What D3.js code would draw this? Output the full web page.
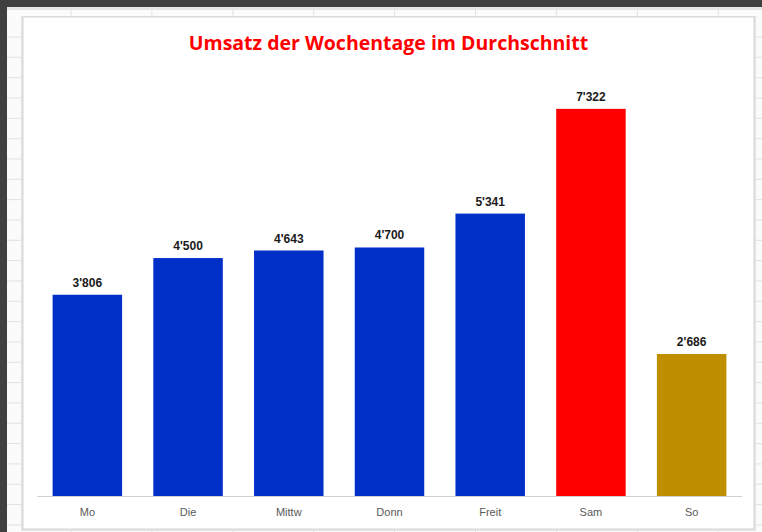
<!DOCTYPE html>
<html>
<head>
<meta charset="utf-8">
<script src="https://cdn.jsdelivr.net/npm/d3@7"></script>
<style>
  html, body { margin: 0; padding: 0; background: #fff; }
  svg { display: block; }
</style>
</head>
<body>
<svg id="chart" width="762" height="532"></svg>
<script>
// data
const days = ["Mo", "Die", "Mittw", "Donn", "Freit", "Sam", "So"];
const umsatz = [3806, 4500, 4643, 4700, 5341, 7322, 2686];
const titleText = "Umsatz der Wochentage im Durchschnitt";

const barColors = ["#0030c8", "#0030c8", "#0030c8", "#0030c8", "#0030c8", "#ff0000", "#bf8f00"];

const W = 762, H = 532;
const svg = d3.select("#chart");

// spreadsheet behind the chart
const sheet = svg.append("g");
sheet.append("rect").attr("width", W).attr("height", H).attr("fill", "#fbfbfb");
const rowLines = d3.range(37, H, 20.33);
const colLines = d3.range(71, W, 80.9);
sheet.selectAll(".row").data(rowLines).enter().append("line")
  .attr("x1", 7).attr("x2", W).attr("y1", d => d).attr("y2", d => d)
  .attr("stroke", "#e2e2e2");
sheet.selectAll(".col").data(colLines).enter().append("line")
  .attr("x1", d => d).attr("x2", d => d).attr("y1", 7).attr("y2", H)
  .attr("stroke", "#e2e2e2");
sheet.append("rect").attr("x", 7).attr("y", 7).attr("width", W).attr("height", 3).attr("fill", "#e6e6e6");
sheet.append("rect").attr("width", W).attr("height", 7).attr("fill", "#404040");
sheet.append("rect").attr("width", 7).attr("height", H).attr("fill", "#404040");

// chart area
const box = { x: 23, y: 17, w: 731, h: 512 };
svg.append("rect")
  .attr("x", box.x - 2).attr("y", box.y - 1).attr("width", box.w + 4).attr("height", box.h + 3)
  .attr("fill", "#e4e4e4");
svg.append("rect")
  .attr("x", box.x).attr("y", box.y).attr("width", box.w).attr("height", box.h)
  .attr("fill", "#ffffff").attr("stroke", "#d4d4d4").attr("stroke-width", 1);

svg.append("text")
  .attr("x", box.x + box.w / 2).attr("y", 50)
  .attr("text-anchor", "middle")
  .attr("fill", "#ff0000")
  .style("font-family", "'Open Sans', Lato, sans-serif")
  .style("font-weight", "bold")
  .style("font-size", "19.5px")
  .text(titleText);

const x = d3.scaleBand().domain(days).range([37, 742]).paddingInner(0.31).paddingOuter(0.155);
const y = d3.scaleLinear().domain([0, 8000]).range([496, 73]);
const color = d3.scaleOrdinal(days, barColors);
const fmt = d3.formatLocale({ decimal: ".", thousands: "'", grouping: [3], currency: ["", ""] }).format(",d");

const data = days.map((d, i) => ({ day: d, value: umsatz[i] }));

const g = svg.append("g");

g.selectAll(".bar").data(data).enter().append("rect")
  .attr("class", "bar")
  .attr("x", d => x(d.day))
  .attr("y", d => y(d.value))
  .attr("width", x.bandwidth())
  .attr("height", d => y(0) - y(d.value))
  .attr("fill", d => color(d.day));

g.selectAll(".lbl").data(data).enter().append("text")
  .attr("x", d => x(d.day) + x.bandwidth() / 2)
  .attr("y", d => y(d.value) - 8)
  .attr("text-anchor", "middle")
  .attr("fill", "#1a1a1a")
  .style("font-family", "'Liberation Sans', Arial, sans-serif")
  .style("font-weight", "bold")
  .style("font-size", "12px")
  .text(d => fmt(d.value));

const axis = g.append("g").attr("transform", `translate(0,${y(0) + 0.5})`)
  .call(d3.axisBottom(x).tickSize(0).tickPadding(12));
axis.select(".domain").attr("stroke", "#d0d0d0").attr("d", "M37,0H742");
axis.selectAll("text")
  .attr("fill", "#595959")
  .style("font-family", "'Liberation Sans', Arial, sans-serif")
  .style("font-size", "11px");
</script>
</body>
</html>
